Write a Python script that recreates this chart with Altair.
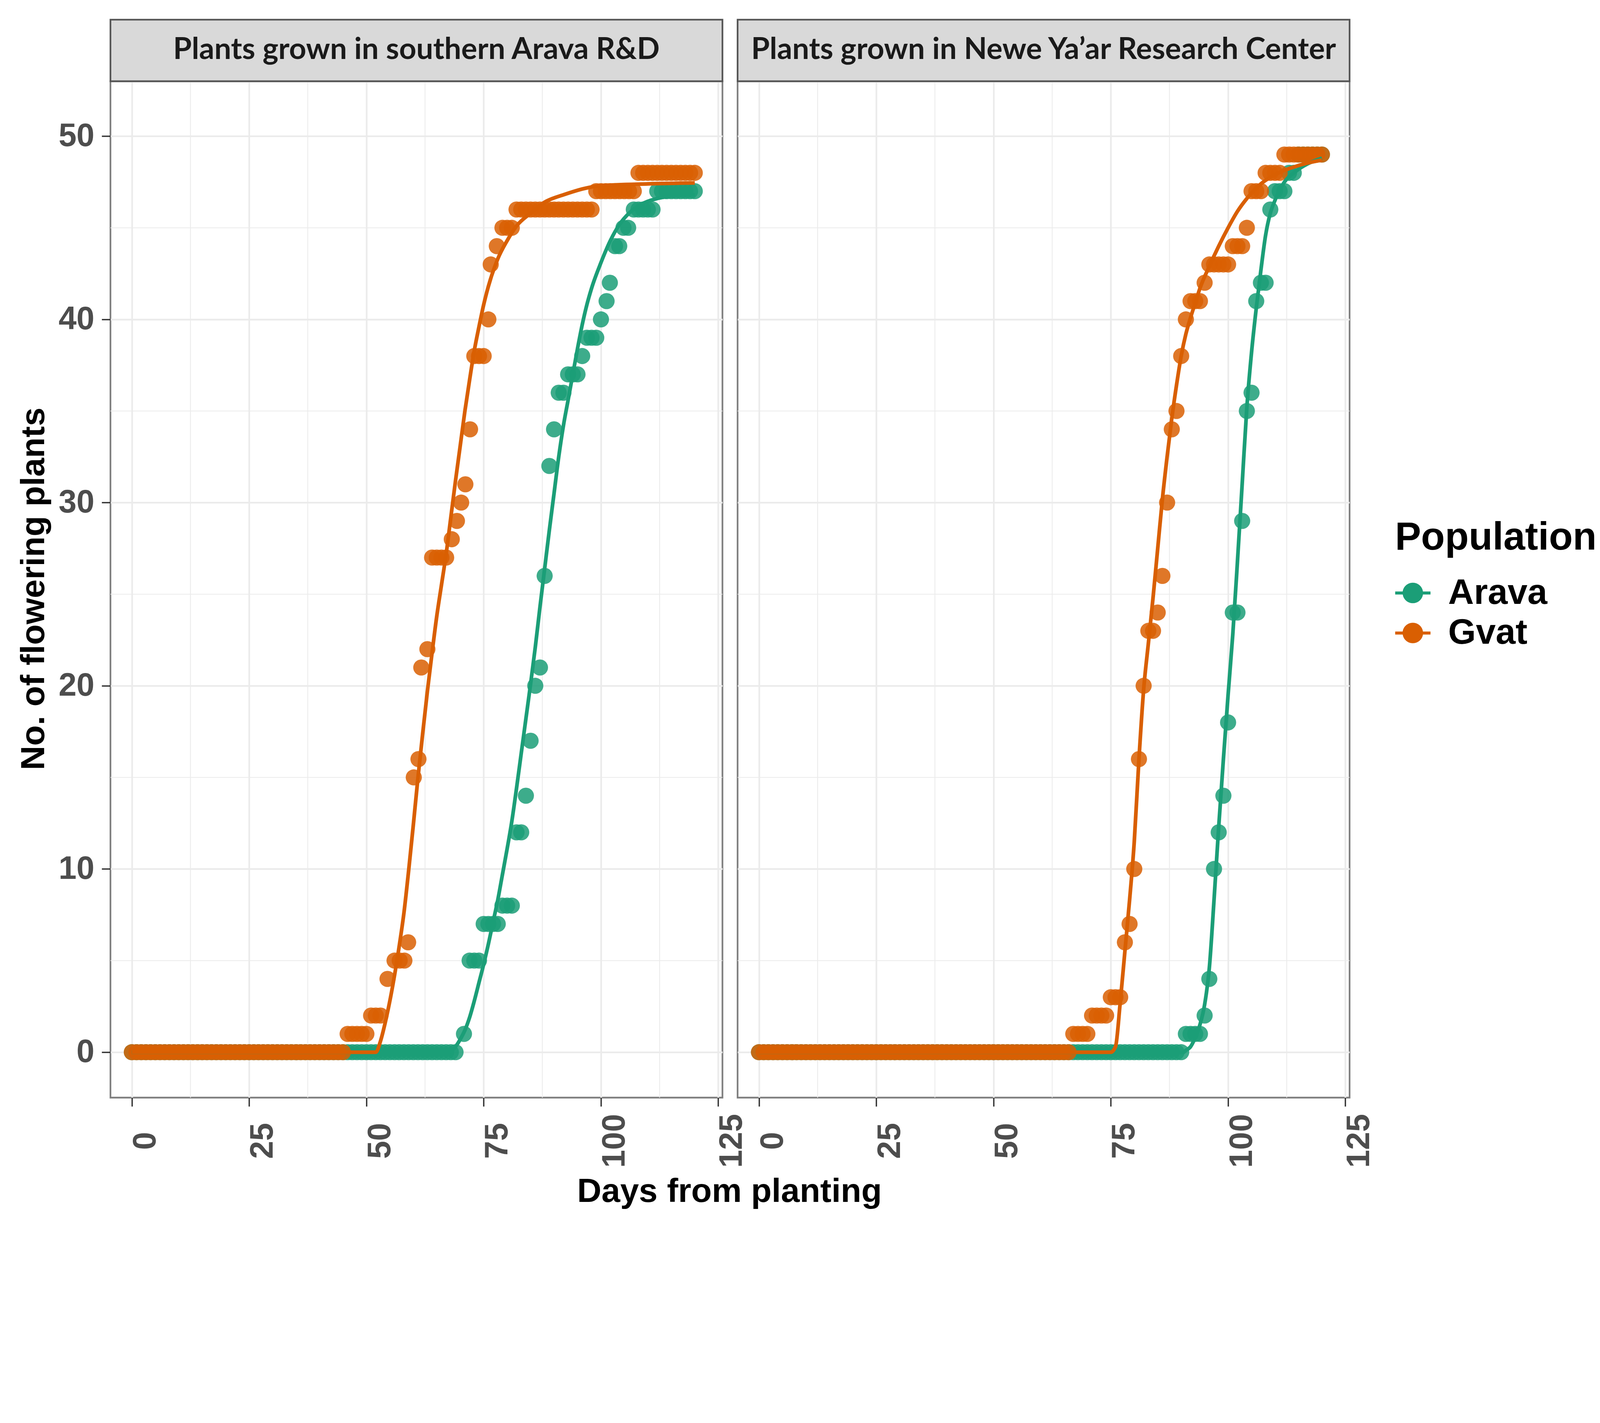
import altair as alt
import pandas as pd

TEAL = "#1B9E77"
ORANGE = "#D95F02"

STRIP_LEFT = "Plants grown in southern Arava R&D"
STRIP_RIGHT = "Plants grown in Newe Ya\u2019ar Research Center"


def run(first_day, last_day, count):
    return [(d, count) for d in range(first_day, last_day + 1)]


# ---- observed cumulative counts (day, number of flowering plants) ----
LEFT_ARAVA = (run(0, 69, 0) + [(70.8, 1)] + run(72, 74, 5) + run(75, 78, 7) + run(79, 81, 8)
              + [(82, 12), (83, 12), (84, 14), (85, 17), (86, 20), (87, 21), (88, 26), (89, 32),
                 (90, 34), (91, 36), (92, 36), (93, 37), (94, 37), (95, 37), (96, 38), (97, 39),
                 (98, 39), (99, 39), (100, 40), (101.2, 41), (101.9, 42), (103, 44), (103.9, 44),
                 (104.8, 45), (105.8, 45)]
              + run(107, 111, 46) + run(112, 120, 47))

LEFT_GVAT = (run(0, 45, 0) + run(46, 50, 1) + run(51, 53, 2)
             + [(54.5, 4), (56, 5), (57.1, 5), (58.1, 5), (58.9, 6), (60.1, 15), (61.1, 16),
                (61.7, 21), (63, 22), (64, 27), (65, 27), (66, 27), (67, 27), (68.2, 28),
                (69.3, 29), (70.2, 30), (71.1, 31), (72.1, 34), (73, 38), (74, 38), (75, 38),
                (76, 40), (76.5, 43), (77.8, 44), (79, 45), (80, 45), (81, 45)]
             + run(82, 98, 46) + run(99, 107, 47) + run(108, 120, 48))

RIGHT_ARAVA = (run(0, 90, 0) + run(91, 94, 1)
               + [(95, 2), (96, 4), (97, 10), (98, 12), (99, 14), (100, 18), (101, 24), (102, 24),
                  (103, 29), (104, 35), (105, 36), (106, 41), (107, 42), (108, 42), (109, 46)]
               + run(110, 112, 47) + run(113, 114, 48) + run(115, 120, 49))

RIGHT_GVAT = (run(0, 66, 0) + run(67, 70, 1) + run(71, 74, 2) + run(75, 77, 3)
              + [(78, 6), (79, 7), (80, 10), (81, 16), (82, 20), (83, 23), (84, 23), (85, 24),
                 (86, 26), (87, 30), (88, 34), (89, 35), (90, 38), (91, 40)]
              + run(92, 94, 41) + [(95, 42)] + run(96, 100, 43) + run(101, 103, 44)
              + [(104, 45)] + run(105, 107, 47) + run(108, 111, 48) + run(112, 120, 49))

# ---- fitted curves (day, fitted count) ----
LEFT_ARAVA_FIT_DAYS = [0, 67.5, 68, 69, 70, 71, 72, 73, 74, 75, 76, 77, 78, 79, 80, 81, 82, 83, 84,
                       85, 86, 87, 88, 89, 90, 91, 92, 93, 94, 95, 96, 97, 98, 100, 102, 104, 106,
                       108, 112, 116, 120]
LEFT_ARAVA_FIT_VALS = [0, 0, 0.05, 0.3, 0.7, 1.2, 1.9, 2.8, 3.8, 4.8, 5.9, 7.1, 8.3, 9.7, 11.1,
                       12.6, 14.4, 16.3, 18.2, 20.1, 22.1, 24.3, 26.4, 28.5, 30.5, 32.5, 34.2,
                       35.6, 37.0, 38.4, 39.7, 40.8, 41.7, 43.1, 44.3, 45.2, 45.8, 46.2, 46.6,
                       46.75, 46.8]

LEFT_GVAT_FIT_DAYS = [0, 52, 53, 54, 55, 56, 57, 58, 59, 60, 61, 62, 63, 64, 65, 66, 67, 68, 69,
                      70, 71, 72, 73, 74, 75, 76, 78, 80, 82, 85, 88, 92, 100, 110, 120]
LEFT_GVAT_FIT_VALS = [0, 0, 0.6, 1.6, 2.8, 4.2, 5.8, 7.6, 9.9, 12.4, 15.0, 17.4, 19.7, 21.8, 23.8,
                      25.5, 27.2, 29.2, 31.2, 33.1, 35.0, 36.7, 38.3, 39.6, 40.8, 41.8, 43.3, 44.3,
                      45.1, 45.8, 46.4, 46.8, 47.3, 47.4, 47.45]

RIGHT_ARAVA_FIT_DAYS = [0, 90.5, 91, 92, 93, 94, 95, 96, 97, 98, 99, 100, 101, 102, 103, 104, 105,
                        106, 107, 108, 109, 110, 112, 114, 117, 120]
RIGHT_ARAVA_FIT_VALS = [0, 0, 0.1, 0.3, 0.8, 1.5, 2.6, 4.6, 8.3, 12.3, 16.0, 19.5, 22.8, 26.8,
                        31.0, 35.2, 38.2, 40.6, 42.7, 44.6, 45.8, 46.5, 47.5, 48.0, 48.5, 48.8]

RIGHT_GVAT_FIT_DAYS = [0, 75, 76, 77, 78, 79, 80, 81, 82, 83, 84, 85, 86, 87, 88, 89, 90, 91, 92,
                       93, 94, 96, 98, 100, 102, 104, 107, 110, 115, 120]
RIGHT_GVAT_FIT_VALS = [0, 0, 0.3, 2.7, 5.5, 8.3, 11.5, 16.0, 19.8, 22.3, 24.8, 27.5, 30.2, 32.5,
                       34.6, 36.4, 38.0, 39.2, 40.1, 40.9, 41.7, 42.9, 44.0, 45.0, 45.9, 46.6,
                       47.4, 47.9, 48.4, 48.7]

X_TICKS = [0, 25, 50, 75, 100, 125]
Y_TICKS = [0, 10, 20, 30, 40, 50]
X_MINOR = [12.5, 37.5, 62.5, 87.5, 112.5]
Y_MINOR = [5, 15, 25, 35, 45]
X_DOMAIN = [-4.56, 125.9]
Y_DOMAIN = [-2.48, 53.0]
POPULATIONS = ["Arava", "Gvat"]

PANEL_W = 1819
PANEL_H = 3021
STRIP_H = 183

FONT = "Liberation Sans"
STRIP_FONT = "Lato"

SYMBOL = ("M-1,-0.086H1V0.086H-1Z "
          "M0.58,0A0.58,0.58,0,1,1,-0.58,0A0.58,0.58,0,1,1,0.58,0Z")


def points_frame(arava, gvat):
    rows = [{"day": d, "count": c, "population": "Arava"} for d, c in arava]
    rows += [{"day": d, "count": c, "population": "Gvat"} for d, c in gvat]
    return pd.DataFrame(rows)


def fit_frame(ad, av, gd, gv):
    rows = [{"day": d, "count": v, "population": "Arava"} for d, v in zip(ad, av)]
    rows += [{"day": d, "count": v, "population": "Gvat"} for d, v in zip(gd, gv)]
    return pd.DataFrame(rows)


legend = alt.Legend(
    title="Population", orient="none", legendX=3818, legendY=1300, padding=0,
    titleFont=FONT, titleFontSize=116, titleFontWeight="bold", titleColor="#000000",
    titlePadding=52, titleAnchor="start", titleLimit=0,
    labelFont=FONT, labelFontSize=106, labelFontWeight="bold", labelColor="#000000",
    labelOffset=52, labelLimit=0, symbolType=SYMBOL, symbolSize=11025, symbolStrokeWidth=0,
    symbolOpacity=1, rowPadding=13,
)
color = alt.Color("population:N", scale=alt.Scale(domain=POPULATIONS, range=[TEAL, ORANGE]),
                  legend=legend)

xscale = alt.Scale(domain=X_DOMAIN, nice=False, zero=False)
yscale = alt.Scale(domain=Y_DOMAIN, nice=False, zero=False)


def panel(pts, fit, strip_label, left):
    if left:
        xaxis = alt.Axis(values=X_TICKS, title="Days from planting", titleX=1839.5, titleY=310,
                         titleAlign="center", titleBaseline="alphabetic", titleAngle=0,
                         labelAngle=270, labelAlign="center", labelBaseline="middle",
                         labelPadding=102, labelOffset=41, labelFlush=False, labelOverlap=False)
        yaxis = alt.Axis(values=Y_TICKS, title="No. of flowering plants", titleAngle=270,
                         titleX=-198, titleY=1508, titleAlign="center",
                         titleBaseline="alphabetic", labelPadding=22, labelFlush=False)
    else:
        xaxis = alt.Axis(values=X_TICKS, title=None, labelAngle=270, labelAlign="center",
                         labelBaseline="middle", labelPadding=102, labelOffset=41,
                         labelFlush=False, labelOverlap=False)
        yaxis = alt.Axis(values=Y_TICKS, title=None, labels=False, ticks=False)

    pts_layer = alt.Chart(pts).mark_circle(size=2300, opacity=0.85).encode(
        x=alt.X("day:Q", scale=xscale, axis=xaxis),
        y=alt.Y("count:Q", scale=yscale, axis=yaxis),
        color=color,
    )
    line_layer = alt.Chart(fit).mark_line(strokeWidth=11, interpolate="monotone").encode(
        x=alt.X("day:Q", scale=xscale, axis=xaxis),
        y=alt.Y("count:Q", scale=yscale, axis=yaxis),
        color=color,
        detail="population:N",
    )
    vminor = alt.Chart(pd.DataFrame({"day": X_MINOR})).mark_rule(
        color="#EBEBEB", strokeWidth=2.5).encode(x=alt.X("day:Q", scale=xscale, axis=xaxis))
    hminor = alt.Chart(pd.DataFrame({"count": Y_MINOR})).mark_rule(
        color="#EBEBEB", strokeWidth=2.5).encode(y=alt.Y("count:Q", scale=yscale, axis=yaxis))

    strip_df = pd.DataFrame({"label": [strip_label]})
    strip_rect = alt.Chart(strip_df).mark_rect(
        fill="#D9D9D9", stroke="#555555", strokeWidth=5).encode(
        x=alt.value(0), x2=alt.value(PANEL_W), y=alt.value(-STRIP_H), y2=alt.value(0))
    strip_text = alt.Chart(strip_df).mark_text(
        font=STRIP_FONT, fontSize=89, fontWeight="bold", color="#1A1A1A",
        align="center", baseline="middle").encode(
        x=alt.value(PANEL_W / 2), y=alt.value(-STRIP_H / 2 - 2), text="label:N")

    return alt.layer(vminor, hminor, pts_layer, line_layer, strip_rect, strip_text).properties(
        width=PANEL_W, height=PANEL_H)


left = panel(points_frame(LEFT_ARAVA, LEFT_GVAT),
             fit_frame(LEFT_ARAVA_FIT_DAYS, LEFT_ARAVA_FIT_VALS,
                       LEFT_GVAT_FIT_DAYS, LEFT_GVAT_FIT_VALS),
             STRIP_LEFT, True)
right = panel(points_frame(RIGHT_ARAVA, RIGHT_GVAT),
              fit_frame(RIGHT_ARAVA_FIT_DAYS, RIGHT_ARAVA_FIT_VALS,
                        RIGHT_GVAT_FIT_DAYS, RIGHT_GVAT_FIT_VALS),
              STRIP_RIGHT, False)

chart = alt.hconcat(left, right, spacing=45, bounds="flush").properties(
    padding={"left": 38, "top": -223, "right": 0, "bottom": 0},
    background="#FFFFFF",
).configure_view(
    stroke="#7F7F7F", strokeWidth=5,
).configure_axis(
    grid=True, gridColor="#EBEBEB", gridWidth=5, domain=False,
    tickColor="#333333", tickWidth=4, tickSize=26,
    labelFont=FONT, labelFontSize=96, labelFontWeight="bold", labelColor="#4D4D4D",
    titleFont=FONT, titleFontSize=100, titleFontWeight="bold", titleColor="#000000",
)

chart.save("out.html", embed_options={"renderer": "svg", "actions": False})
